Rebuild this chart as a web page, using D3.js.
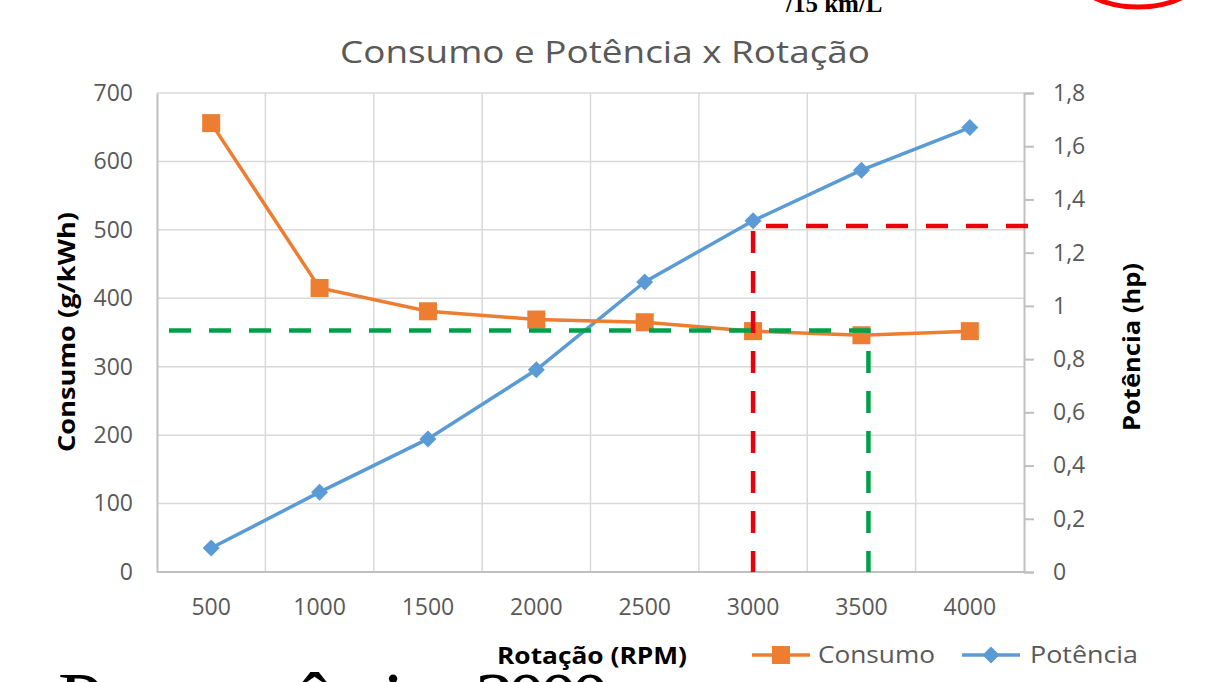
<!DOCTYPE html>
<html>
<head>
<meta charset="utf-8">
<script src="https://cdn.jsdelivr.net/npm/d3@7/dist/d3.min.js"></script>
<style>
  html, body { margin: 0; padding: 0; background: #ffffff; overflow: hidden; }
  svg { display: block; }
</style>
</head>
<body>
<svg id="chart" width="1211" height="682"></svg>
<script>
// ---- data ----
const rpm = ["500", "1000", "1500", "2000", "2500", "3000", "3500", "4000"];
const consumo = [656, 415, 381, 369, 365, 352, 346, 352];      // g/kWh (left axis)
const potencia = [0.09, 0.30, 0.50, 0.76, 1.09, 1.32, 1.51, 1.67]; // hp (right axis)
const leftTicks = [0, 100, 200, 300, 400, 500, 600, 700];
const rightTicks = [0, 0.2, 0.4, 0.6, 0.8, 1, 1.2, 1.4, 1.6, 1.8];
const title = "Consumo e Potência x Rotação";
const xTitle = "Rotação (RPM)";
const yLeftTitle = "Consumo (g/kWh)";
const yRightTitle = "Potência (hp)";
const seriesNames = ["Consumo", "Potência"];
// reference lines
const redRef = { rpm: "3000", potencia: 1.30 };
const greenRef = { rpm: "3500", consumo: 353 };
const topNote = "/15 km/L";
const bottomNote = "Para a potência a 3000 rpm, temos o consumo de";

// ---- layout ----
const W = 1211, H = 682;
const L = 157, R = 1024, T = 93, B = 572;
const orange = "#ED7D31", blue = "#5B9BD5", red = "#E8000B", green = "#00A04A";
const gridC = "#d9d9d9", axisC = "#bfbfbf", txtC = "#595959";
const font = "'Open Sans', 'Noto Sans', sans-serif";

const svg = d3.select("#chart");

const x = d3.scaleBand().domain(rpm).range([L, R]).paddingInner(0).paddingOuter(0);
const cx = d => x(d) + x.bandwidth() / 2;
const yL = d3.scaleLinear().domain([0, 700]).range([B, T]);
const yR = d3.scaleLinear().domain([0, 1.8]).range([B, T]);

// ---- decorations from the slide ----
svg.append("ellipse")
  .attr("cx", 1138).attr("cy", -30).attr("rx", 66).attr("ry", 37)
  .attr("fill", "none").attr("stroke", "#FF0000").attr("stroke-width", 5);
svg.append("text")
  .attr("x", 786).attr("y", 12)
  .attr("font-family", "'Liberation Serif', serif").attr("font-weight", "bold")
  .attr("font-size", 25).attr("fill", "#000")
  .text(topNote);

// ---- gridlines ----
const grid = svg.append("g");
grid.selectAll("line.h").data(leftTicks.filter(d => d > 0)).join("line")
  .attr("x1", L).attr("x2", R)
  .attr("y1", d => yL(d)).attr("y2", d => yL(d))
  .attr("stroke", gridC).attr("stroke-width", 1.5);
grid.selectAll("line.v").data(rpm.slice(1)).join("line")
  .attr("x1", d => x(d)).attr("x2", d => x(d))
  .attr("y1", T).attr("y2", B)
  .attr("stroke", gridC).attr("stroke-width", 1.5);

// ---- axes ----
const axL = svg.append("g").attr("transform", `translate(${L},0)`)
  .call(d3.axisLeft(yL).tickValues(leftTicks).tickSize(0).tickPadding(24));
const axR = svg.append("g").attr("transform", `translate(${R},0)`)
  .call(d3.axisRight(yR).tickValues(rightTicks).tickSize(10).tickPadding(19)
    .tickFormat(d => String(+d.toFixed(1)).replace(".", ",")));
const axB = svg.append("g").attr("transform", `translate(0,${B})`)
  .call(d3.axisBottom(x).tickSize(0).tickPadding(27));

[axL, axR, axB].forEach(g => {
  g.select(".domain").attr("stroke", axisC).attr("stroke-width", 2);
  g.selectAll(".tick line").attr("stroke", axisC).attr("stroke-width", 2);
  g.selectAll(".tick text").attr("fill", txtC).attr("font-family", font).attr("font-size", 23);
});
axB.select(".domain").attr("d", `M${L},0H${R}`);

// ---- series ----
const lineC = d3.line().x((d, i) => cx(rpm[i])).y(d => yL(d));
const lineP = d3.line().x((d, i) => cx(rpm[i])).y(d => yR(d));

svg.append("path").datum(potencia).attr("d", lineP)
  .attr("fill", "none").attr("stroke", blue).attr("stroke-width", 3.5);
svg.append("path").datum(consumo).attr("d", lineC)
  .attr("fill", "none").attr("stroke", orange).attr("stroke-width", 3.5);

const sq = 18, dm = 12;
svg.append("g").selectAll("rect").data(consumo).join("rect")
  .attr("x", (d, i) => cx(rpm[i]) - sq / 2).attr("y", d => yL(d) - sq / 2)
  .attr("width", sq).attr("height", sq).attr("fill", orange);
svg.append("g").selectAll("rect").data(potencia).join("rect")
  .attr("x", -dm / 2).attr("y", -dm / 2).attr("width", dm).attr("height", dm)
  .attr("transform", (d, i) => `translate(${cx(rpm[i])},${yR(d)}) rotate(45)`)
  .attr("fill", blue);

// ---- reference dashed lines ----
svg.append("path")
  .attr("d", `M${R + 4},${yR(redRef.potencia)}H${cx(redRef.rpm)}V${B}`)
  .attr("fill", "none").attr("stroke", red).attr("stroke-width", 4.5)
  .attr("stroke-dasharray", "22,18");
svg.append("path")
  .attr("d", `M${L + 12},${yL(greenRef.consumo)}H${cx(greenRef.rpm) + 7}V${B}`)
  .attr("fill", "none").attr("stroke", green).attr("stroke-width", 4.5)
  .attr("stroke-dasharray", "22,18");

// ---- title ----
svg.append("text")
  .attr("x", 605).attr("y", 63).attr("text-anchor", "middle")
  .attr("font-family", font).attr("font-size", 31).attr("fill", txtC)
  .attr("textLength", 530).attr("lengthAdjust", "spacingAndGlyphs")
  .text(title);

// ---- axis titles ----
svg.append("text")
  .attr("transform", `translate(75,332) rotate(-90)`).attr("text-anchor", "middle")
  .attr("font-family", font).attr("font-weight", "bold").attr("font-size", 23).attr("fill", "#000")
  .attr("textLength", 240).attr("lengthAdjust", "spacingAndGlyphs")
  .text(yLeftTitle);
svg.append("text")
  .attr("transform", `translate(1140,347) rotate(-90)`).attr("text-anchor", "middle")
  .attr("font-family", font).attr("font-weight", "bold").attr("font-size", 23).attr("fill", "#000")
  .attr("textLength", 168).attr("lengthAdjust", "spacingAndGlyphs")
  .text(yRightTitle);
svg.append("text")
  .attr("x", 592).attr("y", 664).attr("text-anchor", "middle")
  .attr("font-family", font).attr("font-weight", "bold").attr("font-size", 23).attr("fill", "#000")
  .attr("textLength", 190).attr("lengthAdjust", "spacingAndGlyphs")
  .text(xTitle);

// ---- legend ----
const legend = svg.append("g");
const legItems = [
  { name: seriesNames[0], color: orange, x0: 752, tx: 818, tl: 117, shape: "sq" },
  { name: seriesNames[1], color: blue, x0: 962, tx: 1030, tl: 108, shape: "dm" }
];
legItems.forEach(it => {
  const gy = 655;
  legend.append("line").attr("x1", it.x0).attr("x2", it.x0 + 58)
    .attr("y1", gy).attr("y2", gy).attr("stroke", it.color).attr("stroke-width", 3.5);
  if (it.shape === "sq") {
    legend.append("rect").attr("x", it.x0 + 29 - 9).attr("y", gy - 9)
      .attr("width", 18).attr("height", 18).attr("fill", it.color);
  } else {
    legend.append("rect").attr("x", -6).attr("y", -6).attr("width", 12).attr("height", 12)
      .attr("transform", `translate(${it.x0 + 29},${gy}) rotate(45)`).attr("fill", it.color);
  }
  legend.append("text").attr("x", it.tx).attr("y", gy + 8)
    .attr("font-family", font).attr("font-size", 23).attr("fill", txtC)
    .attr("textLength", it.tl).attr("lengthAdjust", "spacingAndGlyphs")
    .text(it.name);
});

// ---- slide text cut off at the bottom ----
svg.append("text")
  .attr("x", 58).attr("y", 728)
  .attr("font-family", "'Liberation Serif', serif").attr("font-size", 80).attr("fill", "#000")
  .attr("textLength", 1200).attr("lengthAdjust", "spacing")
  .text(bottomNote);
</script>
</body>
</html>
